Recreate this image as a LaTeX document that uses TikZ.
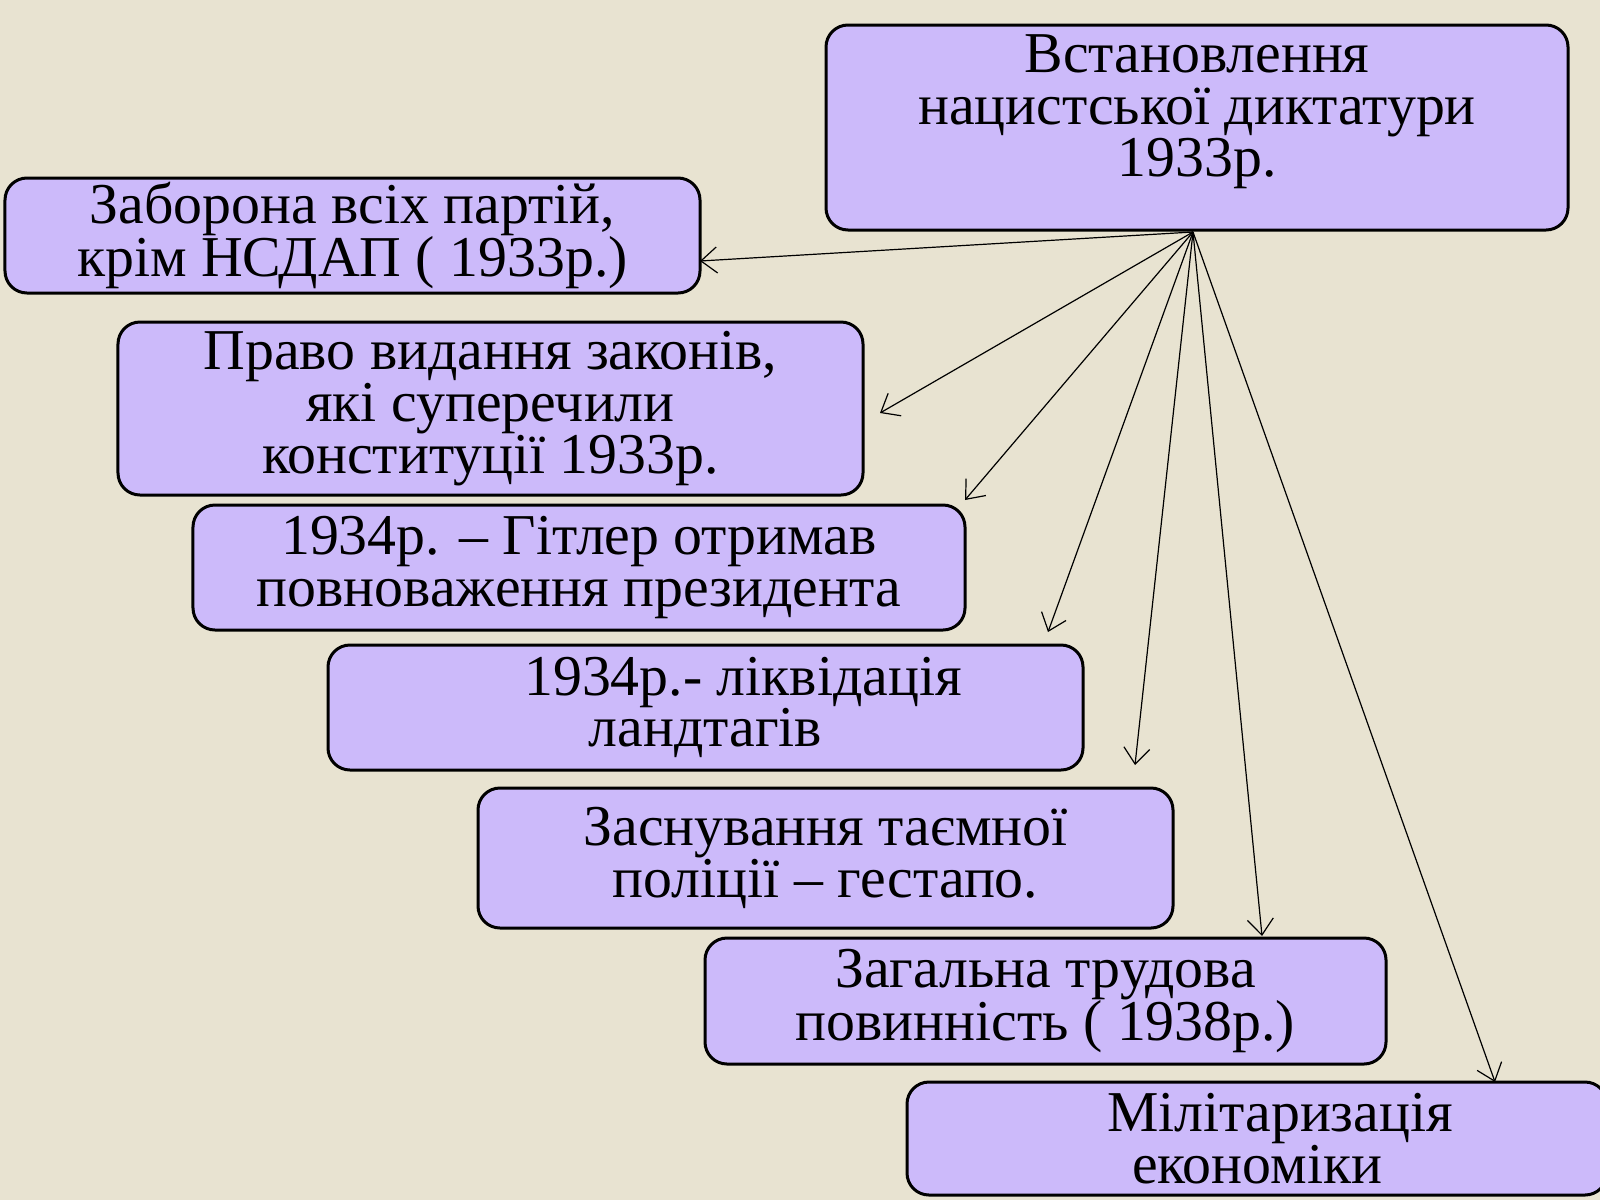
\documentclass[tikz,border=0pt]{standalone}
\usepackage{fontspec}
\setmainfont{Liberation Serif}
\usetikzlibrary{arrows.meta}
\definecolor{bgcol}{rgb}{0.91,0.89,0.82}
\definecolor{boxcol}{rgb}{0.80,0.73,0.98}
\tikzset{
  card/.style={draw=black,line width=3bp,fill=boxcol,rounded corners=22bp,
    align=center,inner sep=0bp,font=\fontsize{58}{52}\selectfont},
  link/.style={-{Straight Barb[length=16bp,width=26bp,line width=1.2bp]},line width=1.2bp}
}
\begin{document}
\begin{tikzpicture}[x=1bp,y=-1bp]
  \fill[bgcol] (0,0) rectangle (1600,1200);
  \useasboundingbox (0,0) rectangle (1600,1200);
  % Boxes
  \node[card,minimum width=742bp,minimum height=205bp] (top) at (1197,127.5) {};
  \node[font=\fontsize{58}{52}\selectfont,align=center] (toptext) at (1197,112)
    {Встановлення\\нацистської диктатури\\1933р.};
  \node[card,minimum width=695bp,minimum height=115bp] (parties) at (352.5,235.5)
    {Заборона всіх партій,\\крім НСДАП ( 1933р.)};
  \node[card,minimum width=745bp,minimum height=173bp] (laws) at (490.5,408.5)
    {Право видання законів,\\які суперечили\\конституції 1933р.};
  \node[card,minimum width=772bp,minimum height=125bp] (president) at (579,567.5)
    {1934р. – Гітлер отримав\\повноваження президента};
  \node[card,minimum width=755bp,minimum height=125bp] (landtag) at (705.5,707.5)
    {\hspace*{1.3em}1934р.- ліквідація\\ландтагів};
  \node[card,minimum width=695bp,minimum height=140bp] (gestapo) at (825.5,858)
    {Заснування таємної\\поліції – гестапо.};
  \node[card,minimum width=681bp,minimum height=126bp] (labour) at (1045.5,1001)
    {Загальна трудова\\повинність ( 1938р.)};
  \node[card,minimum width=700bp,minimum height=113bp] (army) at (1257,1138.5)
    {\hspace*{0.8em}Мілітаризація\\економіки};
  % Links
  \coordinate (hub) at (1193,232);
  \coordinate (part end) at (700,261);
  \coordinate (laws end) at (880,413);
  \coordinate (pres end) at (965,500);
  \coordinate (land end) at (1048,632);
  \coordinate (gest end) at (1135,765);
  \coordinate (lab end) at (1262,936);
  \coordinate (army end) at (1495,1082);
  \foreach \e in {part end,laws end,pres end,land end,gest end,lab end,army end}
    \draw[link] (hub) -- (\e);
\end{tikzpicture}
\end{document}
